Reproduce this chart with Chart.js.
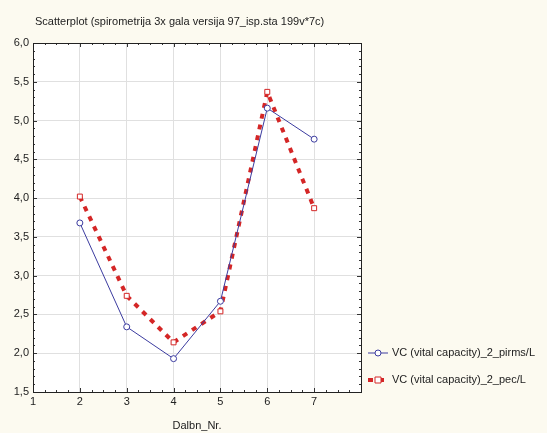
<!DOCTYPE html>
<html>
<head>
<meta charset="utf-8">
<script src="https://cdn.jsdelivr.net/npm/chart.js@4.4.1/dist/chart.umd.min.js"></script>
<style>
  html, body { margin: 0; padding: 0; background: #fcfaf0; }
  #wrap { width: 547px; height: 433px; }
</style>
</head>
<body>
<div id="wrap"><canvas id="chart" width="547" height="433"></canvas></div>
<script>
const titleText = 'Scatterplot (spirometrija 3x gala versija 97_isp.sta 199v*7c)';
const xLabel = 'Dalbn_Nr.';
const xValues = [2, 3, 4, 5, 6, 7];
const pirms = [3.68, 2.34, 1.93, 2.67, 5.16, 4.76];
const pec = [4.02, 2.74, 2.14, 2.54, 5.37, 3.87];
const seriesNames = ['VC (vital capacity)_2_pirms/L', 'VC (vital capacity)_2_pec/L'];
const xTickLabels = ['1', '2', '3', '4', '5', '6', '7'];

const BLUE = '#3c3ca0';
const RED = '#d42626';
const FONT = '"Liberation Sans", Arial, sans-serif';

const toPoints = (ys) => xValues.map((x, i) => ({ x, y: ys[i] }));

// frame, inside ticks, title and legend, drawn the way Statistica does it
const framePlugin = {
    id: 'frame',
    beforeDraw(chart) {
        const { ctx, chartArea: a } = chart;
        ctx.save();
        ctx.fillStyle = '#fcfaf0';
        ctx.fillRect(0, 0, chart.width, chart.height);
        ctx.fillStyle = '#ffffff';
        ctx.fillRect(a.left, a.top, a.right - a.left, a.bottom - a.top);
        ctx.restore();
    },
    afterDatasetsDraw(chart) {
        const { ctx, chartArea: a, scales } = chart;
        ctx.save();
        ctx.strokeStyle = '#333';
        ctx.lineWidth = 1;
        ctx.beginPath();
        for (let v = 1; v <= 8.001; v += 0.25) {
            const px = Math.round(scales.x.getPixelForValue(v)) + 0.5;
            const len = Math.abs(v - Math.round(v)) < 0.01 ? 4 : 2;
            ctx.moveTo(px, a.bottom); ctx.lineTo(px, a.bottom - len);
            ctx.moveTo(px, a.top); ctx.lineTo(px, a.top + len);
        }
        for (let v = 1.5; v <= 6.001; v += 0.1) {
            const py = Math.round(scales.y.getPixelForValue(v)) + 0.5;
            const len = Math.abs(v * 2 - Math.round(v * 2)) < 0.01 ? 4 : 2;
            ctx.moveTo(a.left, py); ctx.lineTo(a.left + len, py);
            ctx.moveTo(a.right, py); ctx.lineTo(a.right - len, py);
        }
        ctx.stroke();
        ctx.strokeStyle = '#222';
        ctx.strokeRect(Math.round(a.left) + 0.5, Math.round(a.top) + 0.5,
            Math.round(a.right - a.left), Math.round(a.bottom - a.top));

        ctx.font = '11px ' + FONT;
        ctx.textBaseline = 'middle';
        ctx.fillStyle = '#222';
        ctx.fillText(titleText, 35, 22);

        // legend
        chart.data.datasets.forEach((ds, i) => {
            const y = 353 + i * 27;
            const x0 = 368;
            ctx.strokeStyle = ds.borderColor;
            ctx.lineWidth = ds.borderWidth;
            ctx.setLineDash(ds.borderDash || []);
            ctx.beginPath();
            ctx.moveTo(x0, y); ctx.lineTo(x0 + 20, y);
            ctx.stroke();
            ctx.setLineDash([]);
            ctx.lineWidth = 1;
            ctx.fillStyle = '#fff';
            ctx.beginPath();
            if (ds.pointStyle === 'rect') ctx.rect(x0 + 7, y - 3, 6, 6);
            else ctx.arc(x0 + 10, y, 3, 0, Math.PI * 2);
            ctx.fill();
            ctx.stroke();
            ctx.fillStyle = '#222';
            ctx.fillText(ds.label, x0 + 24, y);
        });
        ctx.restore();
    },
};

new Chart(document.getElementById('chart'), {
    type: 'scatter',
    data: {
        datasets: [{
            label: seriesNames[0],
            data: toPoints(pirms),
            showLine: true,
            borderColor: BLUE,
            borderWidth: 1,
            pointStyle: 'circle',
            pointRadius: 3,
            pointBackgroundColor: '#fff',
            pointBorderColor: BLUE,
            pointBorderWidth: 1,
        }, {
            label: seriesNames[1],
            data: toPoints(pec),
            showLine: true,
            borderColor: RED,
            borderWidth: 4,
            borderDash: [5, 6],
            pointStyle: 'rect',
            pointRadius: 3.5,
            pointBackgroundColor: '#fff',
            pointBorderColor: RED,
            pointBorderWidth: 1,
        }],
    },
    options: {
        responsive: false,
        animation: false,
        layout: { padding: { left: 0, right: 186, top: 43, bottom: 0 } },
        plugins: {
            legend: { display: false },
            tooltip: { enabled: false },
            title: { display: false },
        },
        scales: {
            x: {
                type: 'linear',
                min: 1,
                max: 8,
                afterFit: (s) => { s.height = 41; },
                afterBuildTicks: (s) => {
                    s.ticks = xTickLabels.map((t) => ({ value: Number(t) }));
                },
                ticks: {
                    color: '#222',
                    font: { family: FONT, size: 11 },
                    padding: 3,
                    callback: (v) => String(v),
                },
                grid: { color: '#e0e0e0', drawTicks: false },
                border: { display: false },
                title: {
                    display: true,
                    text: xLabel,
                    color: '#222',
                    font: { family: FONT, size: 11 },
                    padding: { top: 4, bottom: 0 },
                },
            },
            y: {
                min: 1.5,
                max: 6,
                afterFit: (s) => { s.width = 33; },
                ticks: {
                    stepSize: 0.5,
                    color: '#222',
                    font: { family: FONT, size: 11 },
                    padding: 4,
                    callback: (v) => v.toFixed(1).replace('.', ','),
                },
                grid: { color: '#e0e0e0', drawTicks: false },
                border: { display: false },
            },
        },
    },
    plugins: [framePlugin],
});
</script>
</body>
</html>
